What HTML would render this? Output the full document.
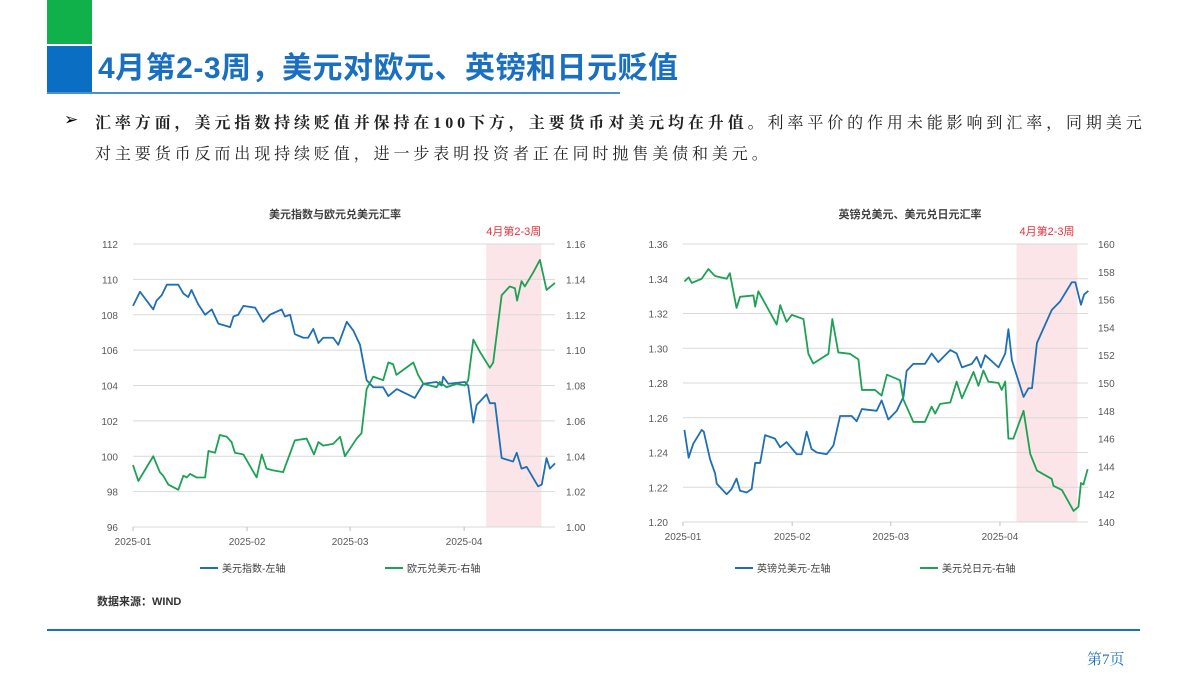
<!DOCTYPE html>
<html><head><meta charset="utf-8">
<style>
body{margin:0;width:1200px;height:675px;background:#fff;overflow:hidden;font-family:"Liberation Sans","Noto Sans CJK SC",sans-serif;position:relative}
.abs{position:absolute}
</style></head>
<body>
<div class="abs" style="left:47px;top:0;width:45px;height:44px;background:#10b14b"></div>
<div class="abs" style="left:47px;top:46px;width:45px;height:47px;background:#0a6fc2"></div>
<div class="abs" style="left:98px;top:43px;font-size:30px;font-weight:bold;color:#1a6fc0;font-family:'Liberation Sans','Noto Sans CJK SC',sans-serif;letter-spacing:0.5px">4月第2-3周，美元对欧元、英镑和日元贬值</div>
<div class="abs" style="left:47px;top:92px;width:573px;height:2px;background:#4a90d0"></div>
<div class="abs" style="left:64px;top:110px;font-size:17px">➢</div>
<div class="abs" style="left:95px;top:108px;width:1100px;font-size:16px;line-height:31px;color:#222;font-family:'Liberation Serif','Noto Serif CJK SC',serif;letter-spacing:3.9px;white-space:nowrap"><b>汇率方面，美元指数持续贬值并保持在100下方，主要货币对美元均在升值。</b>利率平价的作用未能影响到汇率，同期美元<br>对主要货币反而出现持续贬值，进一步表明投资者正在同时抛售美债和美元。</div>

<svg class="abs" style="left:0;top:0" width="1200" height="675">
<g id="c1"></g>
<g id="c2"></g>
</svg>
<div class="abs" style="left:97px;top:593px;font-size:11px;font-weight:bold;color:#333">数据来源：WIND</div>
<div class="abs" style="left:47px;top:629px;width:1093px;height:2px;background:#1a6fc0"></div>
<div class="abs" style="left:1087px;top:648px;font-size:15px;color:#1a6fc0;font-family:'Liberation Serif','Noto Serif CJK SC',serif">第7页</div>

<script>
// Chart 1 data (day offset from 2025-01-01)
const c1Days1=[0,1.9,5.5,6.4,7.8,9.2,12.3,13.7,15,15.9,17.7,19.6,21.4,23.2,26.4,27.3,28.6,30,33.2,35.4,37.2,40.4,41.3,42.7,44,46.3,47.6,49,50.4,51.7,54.4,55.8,58.1,59.9,61.7,63.5,65.3,68,69.4,71.7,76.6,78.9,82.5,83.9,84.3,85.7,90.2,91.1,92.5,93.4,96.1,97,98.4,100.2,103.3,104.3,105.6,107,110.1,111.1,112.4,113.3,114.7];
const dxyValues=[108.5,109.3,108.3,108.8,109.1,109.7,109.7,109.2,109.0,109.4,108.6,108.0,108.3,107.5,107.3,107.9,108.0,108.5,108.4,107.6,108.0,108.3,107.9,108.0,106.9,106.7,106.7,107.2,106.4,106.7,106.7,106.3,107.6,107.1,106.3,104.3,103.9,103.9,103.4,103.8,103.3,104.1,104.2,104.0,104.5,104.1,104.2,104.0,101.9,102.9,103.5,103.0,103.0,99.9,99.7,100.2,99.3,99.4,98.3,98.4,99.9,99.3,99.6];
const c1Days2=[0,1.45,5.5,7.3,8.2,9.6,12.3,13.7,14.6,15.5,17.3,19.6,20.5,22.3,23.6,25.5,26.8,27.7,30,33.6,35,36.3,38.1,40.8,44,47.2,49.2,50.4,51.7,54.4,56.3,57.6,60.8,62.1,63.5,65.3,68,69.4,70.7,71.6,76.2,77.5,78.9,82.5,83.4,85.2,88,90.2,91.1,92.5,94.3,97,97.9,100.2,102.4,103.8,104.4,105.6,106.5,108.8,110.6,112.4,114.7];
const eurValues=[1.035,1.026,1.040,1.031,1.029,1.024,1.021,1.029,1.028,1.030,1.028,1.028,1.043,1.042,1.052,1.051,1.048,1.042,1.041,1.028,1.041,1.033,1.032,1.031,1.049,1.050,1.041,1.048,1.046,1.047,1.051,1.040,1.050,1.053,1.078,1.085,1.083,1.093,1.092,1.086,1.093,1.086,1.081,1.079,1.082,1.079,1.081,1.080,1.083,1.106,1.099,1.090,1.093,1.131,1.136,1.135,1.128,1.139,1.136,1.144,1.151,1.134,1.138];
const c1LeftTicks=[96,98,100,102,104,106,108,110,112];
const c1RightTicks=["1.00","1.02","1.04","1.06","1.08","1.10","1.12","1.14","1.16"];
const c1XTicks=[0,31,59,90];
const c1XLabels=["2025-01","2025-02","2025-03","2025-04"];
const c1Shade=[96,111];
// Chart 2 data
const c2Days1=[0.4,1.6,2.9,5.3,5.9,7.7,9.1,9.6,12.4,13.8,15.2,16.2,18.1,19.5,20.5,21.9,23.3,26.1,27.6,29.4,32.3,33.7,35.1,36.5,38,40.8,42.7,44.6,47.9,49.3,50.8,55,56.4,58.3,60.7,62.6,63.5,65.4,68.7,70.6,72.5,75.9,77.7,79.2,82,83.4,84.6,85.8,89.6,91.5,92.4,93.4,96.7,98.1,99.1,100.5,104.7,107.1,110.4,111.4,113,113.9,115.1];
const gbpValues=[1.253,1.237,1.245,1.253,1.252,1.236,1.228,1.222,1.216,1.219,1.225,1.218,1.217,1.219,1.234,1.234,1.250,1.248,1.243,1.246,1.239,1.239,1.252,1.242,1.240,1.239,1.244,1.261,1.261,1.258,1.265,1.264,1.270,1.259,1.264,1.272,1.287,1.291,1.291,1.297,1.292,1.299,1.297,1.289,1.291,1.295,1.289,1.296,1.289,1.297,1.311,1.293,1.272,1.277,1.277,1.303,1.322,1.327,1.338,1.338,1.325,1.331,1.333];
const c2Days2=[0.4,1.6,2.5,5.3,7.2,9.1,12.4,13.3,15.2,16.2,20,20.5,21.4,26.6,27.6,29.4,30.9,34.2,35.6,37,41.3,42.4,44.1,47.4,49.8,50.8,54.5,56.4,57.9,61.6,62.6,65.4,68.7,70.6,71.6,73,75.9,77.7,79.2,82.5,83.9,85.3,86.7,89.6,90.5,91.5,92.4,93.8,96.7,98.6,100.5,104.7,105.2,107.6,110.9,112.3,113,113.7,114.9];
const jpyValues=[157.3,157.6,157.2,157.5,158.2,157.7,157.5,157.9,155.4,156.2,156.3,155.5,156.6,154.2,155.6,154.4,154.9,154.6,152.1,151.4,152.1,154.6,152.2,152.1,151.7,149.5,149.5,149.1,150.6,150.2,148.8,147.2,147.2,148.3,147.8,148.5,148.6,150.1,148.9,150.8,149.8,150.9,150.1,150,149.5,150.1,146,146,148,144.9,143.7,143.1,142.6,142.3,140.8,141.1,142.8,142.7,143.8];
const c2LeftTicks=["1.20","1.22","1.24","1.26","1.28","1.30","1.32","1.34","1.36"];
const c2RightTicks=[140,142,144,146,148,150,152,154,156,158,160];
const c2XTicks=[0,31,59,90];
const c2XLabels=["2025-01","2025-02","2025-03","2025-04"];
const c2Shade=[94.7,112];

const NS="http://www.w3.org/2000/svg";
function mk(parent,tag,attrs,text){const e=document.createElementNS(NS,tag);for(const k in attrs)e.setAttribute(k,attrs[k]);if(text!==undefined)e.textContent=text;parent.appendChild(e);return e;}
const FONT="'Liberation Sans','Noto Sans CJK SC',sans-serif";

function drawChart(g,cfg){
  const xS=d=>cfg.x0+(d-cfg.d0)/(cfg.d1-cfg.d0)*(cfg.x1-cfg.x0);
  const yL=v=>cfg.yb+(v-cfg.lmin)/(cfg.lmax-cfg.lmin)*(cfg.yt-cfg.yb);
  const yR=v=>cfg.yb+(v-cfg.rmin)/(cfg.rmax-cfg.rmin)*(cfg.yt-cfg.yb);
  const sh=mk(g,'rect',{x:xS(cfg.shade[0]),y:cfg.yt,width:xS(cfg.shade[1])-xS(cfg.shade[0]),height:cfg.yb-cfg.yt,fill:'#fbe5e8'});
  
  
  const an=mk(g,'text',{x:(xS(cfg.shade[0])+xS(cfg.shade[1]))/2,y:cfg.yt-9,'text-anchor':'middle','font-size':11,fill:'#e8303a','font-family':FONT},'4月第2-3周');
  
  
  cfg.lt.forEach(t=>{const y=yL(+t);
    const gl=mk(g,'line',{x1:cfg.x0,x2:cfg.x1,y1:y,y2:y,stroke:'#d9d9d9','stroke-width':1});
    
    
    const tl=mk(g,'text',{x:cfg.lx,y:y+4,'text-anchor':'end','font-size':10,fill:'#595959','font-family':FONT},t);
    
    });
  cfg.rt.forEach(t=>{const y=yR(+t);
    const tl=mk(g,'text',{x:cfg.rx,y:y+4,'text-anchor':'start','font-size':10,fill:'#595959','font-family':FONT},t);
    
    });
  cfg.xt.forEach((d,i)=>{const x=xS(d);
    mk(g,'line',{x1:x,x2:x,y1:cfg.yb,y2:cfg.yb+4,stroke:'#bfbfbf'});
    const tl=mk(g,'text',{x:x,y:cfg.yb+18,'text-anchor':'middle','font-size':10,fill:'#595959','font-family':FONT},cfg.xl[i]);
    
    });
  const s1=mk(g,'polyline',{points:cfg.d1a.map((d,i)=>xS(d)+','+yL(cfg.v1[i])).join(' '),fill:'none',stroke:'#1f6fb5','stroke-width':1.8,'stroke-linejoin':'round'});
  
  
  const s2=mk(g,'polyline',{points:cfg.d2a.map((d,i)=>xS(d)+','+yR(cfg.v2[i])).join(' '),fill:'none',stroke:'#1ea154','stroke-width':1.8,'stroke-linejoin':'round'});
  
  
  const tt=mk(g,'text',{x:cfg.tx,y:218,'text-anchor':'middle','font-size':11,'font-weight':'bold',fill:'#404040','font-family':FONT},cfg.title);
  
  
  cfg.leg.forEach(l=>{
    mk(g,'line',{x1:l[0],x2:l[0]+18,y1:568,y2:568,stroke:l[1],'stroke-width':2});
    const lt=mk(g,'text',{x:l[0]+22,y:572,'font-size':10,fill:'#404040','font-family':FONT},l[2]);
    
    });
}
drawChart(document.getElementById('c1'),{x0:133,x1:555,d0:0,d1:114.7,yt:244,yb:527,lmin:96,lmax:112,rmin:1.0,rmax:1.16,
 lt:c1LeftTicks,rt:c1RightTicks,xt:c1XTicks,xl:c1XLabels,shade:c1Shade,d1a:c1Days1,v1:dxyValues,d2a:c1Days2,v2:eurValues,
 lx:118,rx:566,tx:335,title:'美元指数与欧元兑美元汇率',leg:[[200,'#1f6fb5','美元指数-左轴'],[385,'#1ea154','欧元兑美元-右轴']]});
drawChart(document.getElementById('c2'),{x0:683,x1:1088,d0:0,d1:115,yt:244,yb:522,lmin:1.20,lmax:1.36,rmin:140,rmax:160,
 lt:c2LeftTicks,rt:c2RightTicks,xt:c2XTicks,xl:c2XLabels,shade:c2Shade,d1a:c2Days1,v1:gbpValues,d2a:c2Days2,v2:jpyValues,
 lx:668,rx:1098,tx:910,title:'英镑兑美元、美元兑日元汇率',leg:[[735,'#1f6fb5','英镑兑美元-左轴'],[920,'#1ea154','美元兑日元-右轴']]});
</script>
</body></html>
